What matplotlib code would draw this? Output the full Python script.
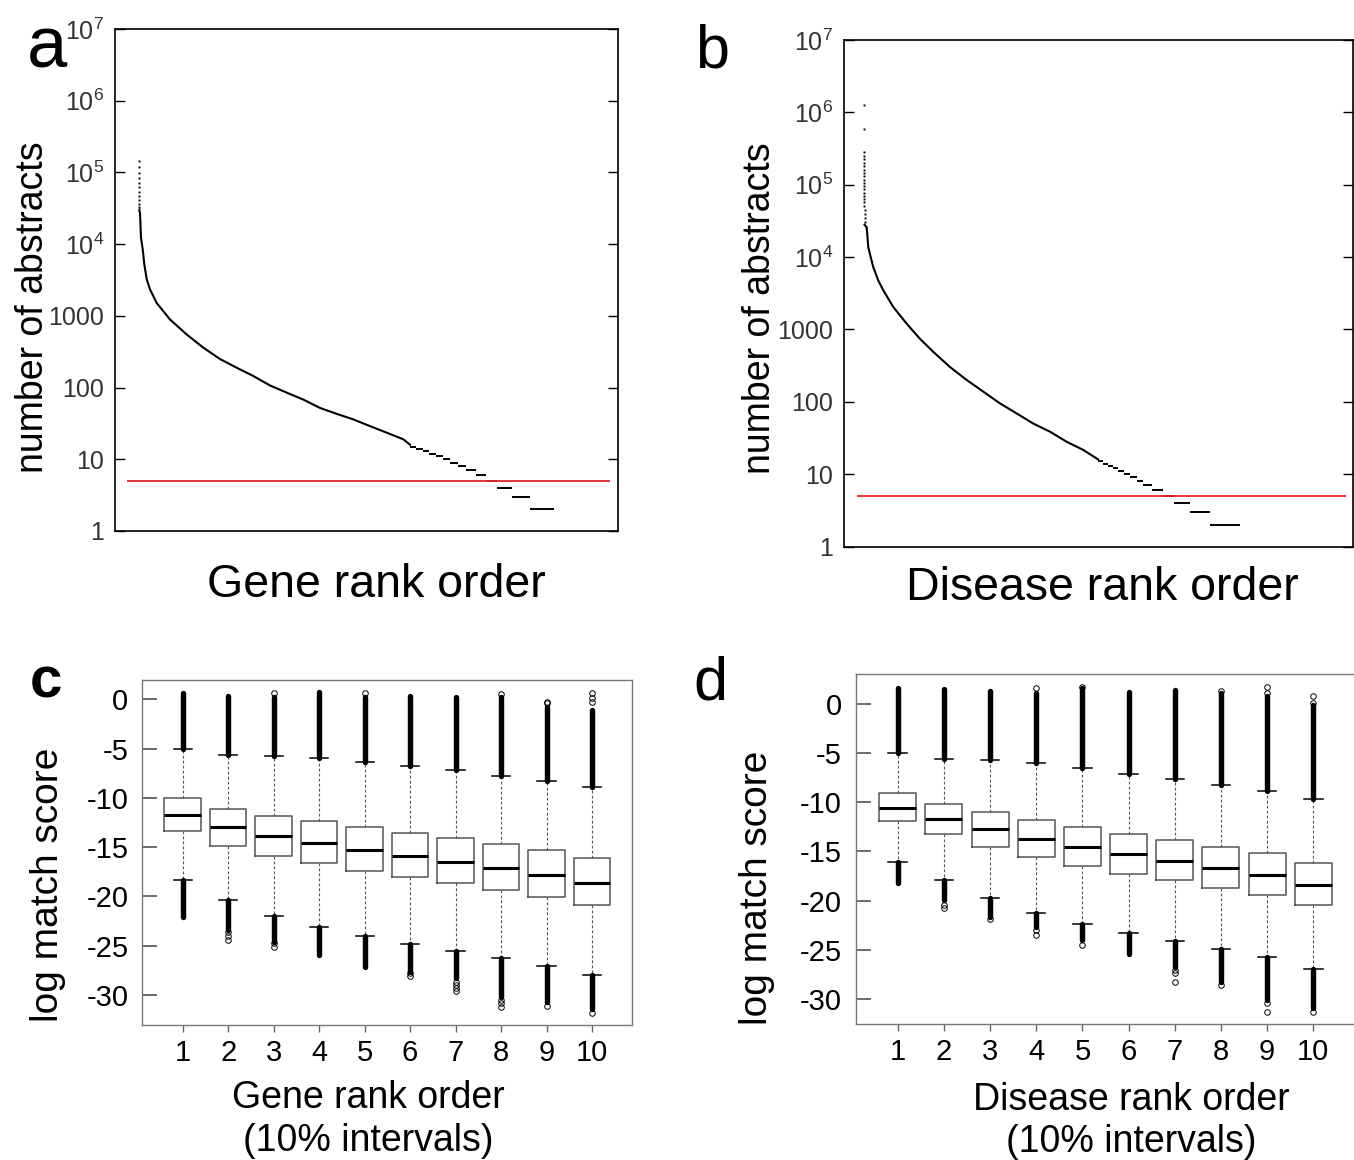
import matplotlib
matplotlib.use('Agg')
import matplotlib.pyplot as plt
from matplotlib.ticker import NullLocator
import numpy as np

plt.rcParams['font.family'] = ['Liberation Sans', 'DejaVu Sans']
plt.rcParams['mathtext.fontset'] = 'custom'
plt.rcParams['mathtext.rm'] = 'Liberation Sans'

# ---------------- data: panel a (genes) ----------------
gene_top_rank = [1, 2, 3, 4, 5, 6, 7, 8, 9, 10, 11, 12]
gene_top_count = [144000, 118000, 98000, 84000, 72000, 62000, 54000, 47000, 41000, 36000, 33000, 30500]
gene_curve_rank = [13, 40, 80, 148, 212, 308, 440, 708, 1240, 1908, 2572, 3240, 3908,
                   4572, 5240, 5908, 6572, 7240, 7908, 8572, 9240, 9908, 10572, 10840]
gene_curve_count = [29000, 27500, 12300, 8500, 5250, 3240, 2340, 1510, 890, 550, 360, 250, 189,
                    145, 107, 85, 68, 52, 43, 36, 29, 23.5, 19, 16]
gene_step_count = [15, 14, 13, 12, 11, 10, 9, 8, 7, 6, 5, 4, 3, 2]
gene_step_start = [10840, 11080, 11360, 11600, 11880, 12160, 12440, 12760, 13080, 13480, 13880, 14320, 14920, 15640]
gene_step_end = [11080, 11360, 11600, 11880, 12160, 12440, 12760, 13080, 13480, 13880, 14320, 14920, 15640, 16600]

# ---------------- data: panel b (diseases) ----------------
disease_top_rank = [1, 2, 3, 4, 5, 6, 7, 8, 9, 10, 11, 12, 13, 14, 15, 16, 17, 18, 19, 20, 21, 22, 23]
disease_top_count = [1250000, 590000, 280000, 250000, 225000, 200000, 180000, 160000, 145000, 130000,
                     117000, 105000, 95000, 86000, 78000, 70000, 63000, 57000, 51000, 45000, 40000,
                     35000, 31000]
disease_curve_rank = [24, 108, 172, 268, 372, 572, 772, 1172, 1708, 2240, 2772, 3440, 4108, 4772,
                      5440, 6108, 6772, 7440, 8108, 8772, 9360]
disease_curve_count = [28000, 25700, 13600, 10000, 7240, 4740, 3470, 2040, 1200, 740, 490, 302, 200,
                       138, 95, 69, 50, 38.6, 28, 21.6, 16]
disease_step_count = [15, 14, 13, 12, 11, 10, 9, 8, 7, 6, 5, 4, 3, 2]
disease_step_start = [9360, 9560, 9760, 9960, 10160, 10400, 10640, 10920, 11160, 11520, 11960, 12400, 13040, 13840]
disease_step_end = [9560, 9760, 9960, 10160, 10400, 10640, 10920, 11160, 11520, 11960, 12400, 13040, 13840, 15040]

threshold = 5

log_ticks = [1, 10, 100, 1000, 1e4, 1e5, 1e6, 1e7]
log_labels = ['1', '10', '100', '1000', r'$\mathregular{10^4}$', r'$\mathregular{10^5}$',
              r'$\mathregular{10^6}$', r'$\mathregular{10^7}$']

# ---------------- data: panel c (gene boxplots) ----------------
interval = [1, 2, 3, 4, 5, 6, 7, 8, 9, 10]
c_q3 = [-10.04, -11.16, -11.80, -12.38, -12.99, -13.53, -14.10, -14.68, -15.32, -16.06]
c_med = [-11.77, -12.99, -13.83, -14.58, -15.29, -15.93, -16.50, -17.15, -17.86, -18.60]
c_q1 = [-13.39, -14.88, -15.89, -16.64, -17.38, -18.06, -18.67, -19.34, -20.05, -20.87]
c_whishi = [-5.07, -5.65, -5.75, -5.92, -6.32, -6.76, -7.20, -7.74, -8.25, -8.89]
c_whislo = [-18.33, -20.36, -21.95, -23.06, -24.01, -24.86, -25.53, -26.28, -27.05, -27.97]
c_out_hi = [0.61, 0.34, 0.27, 0.78, 0.20, 0.34, 0.27, 0.27, -0.74, -1.08]
c_out_lo = [-22.05, -23.40, -24.59, -25.94, -27.12, -27.63, -28.31, -30.17, -30.67, -31.45]
c_iso_pos = [2, 2, 2, 3, 3, 3, 5, 6, 6, 7, 7, 7, 7, 8, 8, 8, 8, 9, 9, 9, 10, 10, 10, 10]
c_iso_val = [-23.57, -24.01, -24.42, 0.68, -24.76, -25.09, 0.68, -27.80, -28.07, -28.64, -28.98,
             -29.32, -29.59, 0.51, -30.50, -30.84, -31.18, -0.41, -0.24, -31.11, 0.68, 0.10, -0.24, -31.86]

# ---------------- data: panel d (disease boxplots) ----------------
d_q3 = [-9.11, -10.23, -11.01, -11.79, -12.50, -13.24, -13.85, -14.53, -15.21, -16.15]
d_med = [-10.57, -11.69, -12.74, -13.72, -14.53, -15.31, -15.99, -16.70, -17.41, -18.42]
d_q1 = [-11.96, -13.24, -14.53, -15.61, -16.46, -17.27, -17.95, -18.69, -19.44, -20.49]
d_whishi = [-4.99, -5.63, -5.73, -6.07, -6.58, -7.19, -7.66, -8.27, -8.88, -9.69]
d_whislo = [-16.05, -17.91, -19.78, -21.30, -22.42, -23.33, -24.11, -24.95, -25.73, -26.99]
d_out_hi = [1.55, 1.45, 1.31, 1.04, 1.55, 1.21, 1.38, 1.04, 0.77, -0.14]
d_out_lo = [-18.19, -19.95, -21.64, -22.65, -24.01, -25.43, -26.71, -28.24, -30.10, -30.95]
d_iso_pos = [2, 2, 3, 4, 4, 4, 5, 5, 7, 7, 7, 8, 8, 9, 9, 9, 9, 10, 10, 10]
d_iso_val = [-20.45, -20.79, -21.91, 1.55, -22.99, -23.50, 1.72, -24.51, -27.05, -27.39, -28.24,
             1.31, -28.58, 1.65, 1.04, -30.44, -31.28, 0.80, 0.09, -31.28]

box_ticks = [0, -5, -10, -15, -20, -25, -30]
box_tick_labels = ['0', '-5', '-10', '-15', '-20', '-25', '-30']

# ---------------- figure ----------------
W, H = 1354, 1160
fig = plt.figure(figsize=(W / 100, H / 100), dpi=100)


def box(l, t, r, b):
    return [l / W, 1 - b / H, (r - l) / W, (b - t) / H]


def ftext(x, y, s, **kw):
    fig.text(x / W, 1 - y / H, s, **kw)


def rank_panel(ax, top_rank, top_cnt, cur_rank, cur_cnt, st_cnt, st_start, st_end, xlim, red_x):
    ax.set_yscale('log')
    ax.set_ylim(1, 1e7)
    ax.set_xlim(*xlim)
    ax.plot(top_rank, top_cnt, ls='none', marker='s', ms=1.4, mew=0, color='black')
    ax.plot(cur_rank, cur_cnt, color='black', lw=1.5)
    ax.hlines(st_cnt, st_start, st_end, color='black', lw=1.4)
    ax.hlines(threshold, red_x[0], red_x[1], color='#e3262b', lw=1.3, zorder=3)
    ax.set_yticks(log_ticks)
    ax.set_yticklabels(log_labels)
    ax.yaxis.set_minor_locator(NullLocator())
    ax.tick_params(axis='y', which='major', direction='in', length=7, width=1.0,
                   left=True, right=True, labelsize=18, labelcolor='#333333', pad=8)
    ax.tick_params(axis='x', which='both', bottom=False, labelbottom=False)
    for s in ax.spines.values():
        s.set_linewidth(1.2)
        s.set_color('black')


def box_panel(ax, q1, med, q3, wlo, whi, olo, ohi, iso_pos, iso_val, xlim, ylim):
    stats = [dict(med=m, q1=a, q3=b, whislo=lo, whishi=hi, fliers=[])
             for a, m, b, lo, hi in zip(q1, med, q3, wlo, whi)]
    ax.bxp(stats, positions=interval, widths=0.8, showfliers=False, capwidths=0.4,
           boxprops=dict(color='#555555', lw=1.1),
           medianprops=dict(color='black', lw=2.2),
           whiskerprops=dict(color='#555555', lw=0.8, ls=(0, (2.5, 2))),
           capprops=dict(color='black', lw=1.1))
    ax.vlines(interval, whi, ohi, color='black', lw=3.9, capstyle='round')
    ax.vlines(interval, olo, wlo, color='black', lw=3.9, capstyle='round')
    ax.plot(iso_pos, iso_val, ls='none', marker='o', ms=4, mfc='none', mec='black', mew=0.7)
    ax.set_xlim(*xlim)
    ax.set_ylim(*ylim)
    ax.set_yticks(box_ticks)
    ax.set_yticklabels(box_tick_labels)
    ax.set_xticks(interval)
    ax.set_xticklabels([str(i) for i in interval])
    ax.tick_params(axis='y', direction='in', length=11, width=1.1, color='#444444',
                   labelsize=21, pad=10)
    ax.tick_params(axis='x', direction='out', length=5, width=1.0, color='#666666',
                   labelsize=21, pad=5)
    for s in ax.spines.values():
        s.set_linewidth(1.0)
        s.set_color('#777777')


# panel a
ax_a = fig.add_axes(box(115, 29, 618, 531))
rank_panel(ax_a, gene_top_rank, gene_top_count, gene_curve_rank, gene_curve_count,
           gene_step_count, gene_step_start, gene_step_end, (-960, 19160), (-480, 18840))

# panel b
ax_b = fig.add_axes(box(844, 40, 1353, 546.5))
rank_panel(ax_b, disease_top_rank, disease_top_count, disease_curve_rank, disease_curve_count,
           disease_step_count, disease_step_start, disease_step_end, (-800, 19560), (-280, 19280))

# panel c
ax_c = fig.add_axes(box(142.3, 680, 632, 1025))
box_panel(ax_c, c_q1, c_med, c_q3, c_whislo, c_whishi, c_out_lo, c_out_hi,
          c_iso_pos, c_iso_val, (0.112, 10.879), (-33.04, 1.96))

# panel d
ax_d = fig.add_axes(box(856, 674.3, 1357, 1024.3))
box_panel(ax_d, d_q1, d_med, d_q3, d_whislo, d_whishi, d_out_lo, d_out_hi,
          d_iso_pos, d_iso_val, (0.097, 10.946), (-32.57, 2.97))

# texts
ftext(27, 68, 'a', fontsize=52, ha='left', va='baseline')
ftext(695, 68, 'b', fontsize=44, ha='left', va='baseline')
ftext(30, 698, 'c', fontsize=42, ha='left', va='baseline', fontweight='bold')
ftext(693, 700, 'd', fontsize=44, ha='left', va='baseline')

ftext(33, 307, 'number of abstracts', fontsize=27, rotation=90, ha='center', va='center')
ftext(760, 308, 'number of abstracts', fontsize=27, rotation=90, ha='center', va='center')
ftext(376, 597, 'Gene rank order', fontsize=33.5, ha='center', va='baseline')
ftext(1102, 600, 'Disease rank order', fontsize=33.5, ha='center', va='baseline')

ftext(48, 885, 'log match score', fontsize=28, rotation=90, ha='center', va='center')
ftext(757, 888, 'log match score', fontsize=28, rotation=90, ha='center', va='center')
ftext(368, 1108, 'Gene rank order', fontsize=27, ha='center', va='baseline')
ftext(368, 1151, '(10% intervals)', fontsize=27, ha='center', va='baseline')
ftext(1131, 1110, 'Disease rank order', fontsize=27, ha='center', va='baseline')
ftext(1131, 1152, '(10% intervals)', fontsize=27, ha='center', va='baseline')

fig.savefig('out.png', dpi=100)
